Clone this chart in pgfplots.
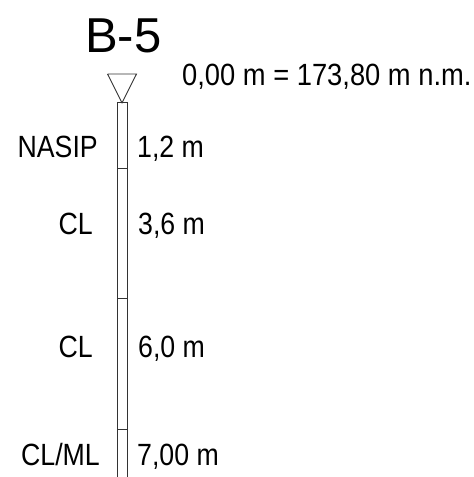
\documentclass[border=0pt]{standalone}
\usepackage{pgfplots}
\pgfplotsset{compat=1.18}
\usepackage{fontspec}
\setmainfont{Liberation Sans}
\newfontfamily\narrow[FakeStretch=0.87]{Liberation Sans}
\newfontfamily\narrowb[FakeStretch=0.89]{Liberation Sans}
\begin{document}
\begin{tikzpicture}
\begin{axis}[
  scale only axis,
  width=474pt, height=477pt,
  xmin=0, xmax=474,
  ymin=-1.8897, ymax=6.8828,
  y dir=reverse,
  hide axis,
  clip mode=individual,
  unbounded coords=jump,
]
% column
\addplot[black!80, line width=0.9pt] coordinates {(117,7.0) (117,0) (127,0) (127,7.0)};
% layer boundaries
\addplot[black!80, line width=0.9pt] coordinates {(117,1.2) (127,1.2) (nan,nan) (117,3.6) (127,3.6) (nan,nan) (117,6.0) (127,6.0)};
% water/ground level triangle
\addplot[black!80, line width=0.9pt] coordinates {(107.5,-0.5287) (136.5,-0.5287) (122,0) (107.5,-0.5287)};
\path (rel axis cs:0,0) rectangle (rel axis cs:1,1);
% texts
\node[anchor=base west, inner sep=0] at (axis cs:85,-0.933) {\fontsize{49}{55}\selectfont B-5};
\node[anchor=base west, inner sep=0] at (axis cs:182,-0.3264) {\narrowb\fontsize{30.7}{36}\selectfont 0,00 m = 173,80 m n.m.};
\node[anchor=base east, inner sep=0] at (axis cs:98,1.0) {\narrow\fontsize{30.7}{36}\selectfont NASIP};
\node[anchor=base west, inner sep=0] at (axis cs:137,1.0) {\narrow\fontsize{30.7}{36}\selectfont 1,2 m};
\node[anchor=base east, inner sep=0] at (axis cs:93,2.432) {\narrow\fontsize{30.7}{36}\selectfont CL};
\node[anchor=base west, inner sep=0] at (axis cs:138,2.432) {\narrow\fontsize{30.7}{36}\selectfont 3,6 m};
\node[anchor=base east, inner sep=0] at (axis cs:93,4.694) {\narrow\fontsize{30.7}{36}\selectfont CL};
\node[anchor=base west, inner sep=0] at (axis cs:138,4.694) {\narrow\fontsize{30.7}{36}\selectfont 6,0 m};
\node[anchor=base east, inner sep=0] at (axis cs:100,6.662) {\narrow\fontsize{30.7}{36}\selectfont CL/ML};
\node[anchor=base west, inner sep=0] at (axis cs:137,6.662) {\narrow\fontsize{30.7}{36}\selectfont 7,00 m};
\end{axis}
\end{tikzpicture}
\end{document}
